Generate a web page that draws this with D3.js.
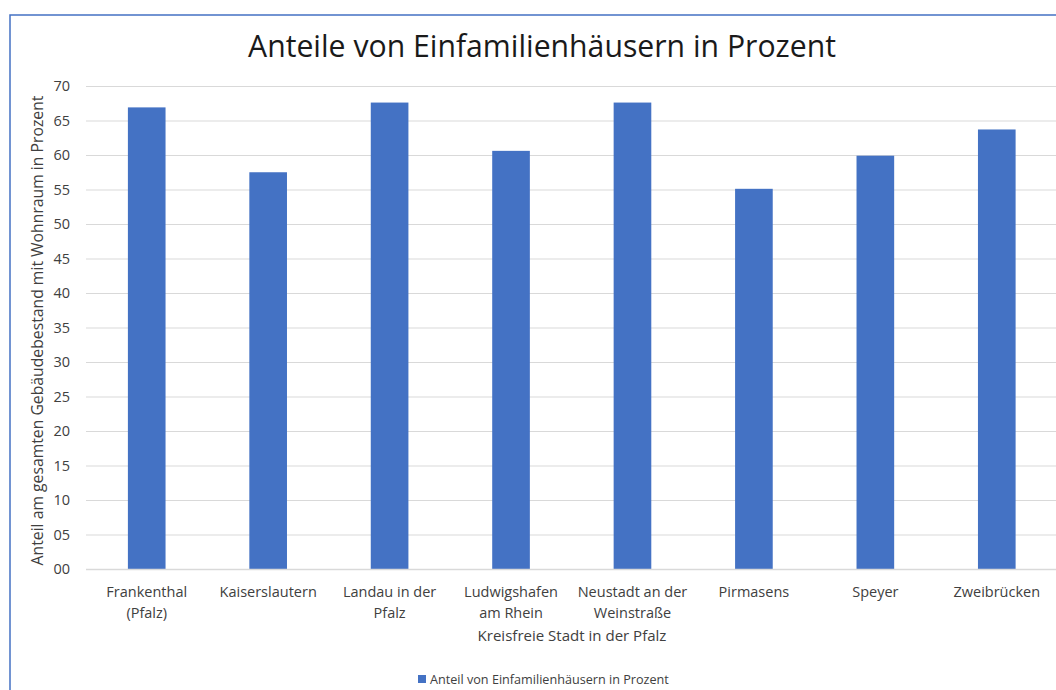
<!DOCTYPE html>
<html><head><meta charset="utf-8">
<script src="https://cdn.jsdelivr.net/npm/d3@7"></script>
<style>body{margin:0;background:#fff;} svg{display:block;} text{font-family:"Open Sans",sans-serif;}</style>
</head><body>
<svg id="c" width="1056" height="690"></svg>
<script>
const categories = [["Frankenthal","(Pfalz)"],["Kaiserslautern"],["Landau in der","Pfalz"],["Ludwigshafen","am Rhein"],["Neustadt an der","Weinstraße"],["Pirmasens"],["Speyer"],["Zweibrücken"]];
const values = [66.9, 57.5, 67.6, 60.6, 67.6, 55.1, 59.9, 63.7];
const yTicks = [0,5,10,15,20,25,30,35,40,45,50,55,60,65,70];
const title = "Anteile von Einfamilienhäusern in Prozent";
const yTitle = "Anteil am gesamten Gebäudebestand mit Wohnraum in Prozent";
const xTitle = "Kreisfreie Stadt in der Pfalz";
const legendLabel = "Anteil von Einfamilienhäusern in Prozent";

(function(){
const svg = d3.select("#c");
const blue = "#4472C4";
svg.append("rect").attr("x",10).attr("y",15).attr("width",1100).attr("height",700)
  .attr("fill","none").attr("stroke",blue).attr("stroke-width",1.5);

const pL=86, pR=1057.5, pT=86, pB=569;
const x = d3.scaleBand().domain(categories.map((d,i)=>i)).range([pL,pR]).paddingInner(0.69).paddingOuter(0.345);
const y = d3.scaleLinear().domain([0,70]).range([pB,pT]);

function fit(sel, target){
  const w = sel.node().getComputedTextLength();
  const fs = parseFloat(sel.attr("font-size"));
  sel.attr("font-size", fs*target/w);
}

const yAxis = d3.axisLeft(y).tickValues(yTicks).tickSize(-(pR-pL)).tickFormat(d=>d3.format("02d")(d));
const ga = svg.append("g").attr("transform",`translate(${pL},0)`).call(yAxis);
ga.select(".domain").remove();
ga.selectAll(".tick line").attr("stroke","#d9d9d9").attr("stroke-width",1);
ga.selectAll(".tick text").attr("x",-16).attr("fill","#404040").attr("font-size",14.5).attr("font-family","Open Sans");

svg.append("g").selectAll("rect").data(values).join("rect")
  .attr("x",(d,i)=>x(i)).attr("width",x.bandwidth())
  .attr("y",d=>y(d)).attr("height",d=>pB-y(d)).attr("fill",blue);

svg.append("line").attr("x1",pL).attr("x2",pR).attr("y1",pB+0.5).attr("y2",pB+0.5).attr("stroke","#d9d9d9").attr("stroke-width",1.5);

const xl = svg.append("g").selectAll("text").data(categories).join("text")
  .attr("text-anchor","middle").attr("fill","#404040").attr("font-size",14.5)
  .attr("transform",(d,i)=>`translate(${x(i)+x.bandwidth()/2},597)`);
xl.selectAll("tspan").data(d=>d).join("tspan").attr("x",0).attr("dy",(d,j)=>j?21:0).text(d=>d);

const t = svg.append("text").attr("x",542).attr("y",57).attr("text-anchor","middle").attr("fill","#1a1a1a").attr("font-size",27).text(title);
fit(t,588);

const yt = svg.append("text").attr("transform",`translate(43,${(pT+pB)/2+3}) rotate(-90)`).attr("text-anchor","middle")
  .attr("fill","#404040").attr("font-size",14.5).text(yTitle);
fit(yt,470);

const xt = svg.append("text").attr("x",572).attr("y",641).attr("text-anchor","middle").attr("fill","#404040").attr("font-size",14.5).text(xTitle);
fit(xt,189);

svg.append("rect").attr("x",418).attr("y",675).attr("width",8).attr("height",8).attr("fill",blue);
const lt = svg.append("text").attr("x",430).attr("y",684).attr("fill","#404040").attr("font-size",12.5).text(legendLabel);
fit(lt,239);
})();
</script>
</body></html>
